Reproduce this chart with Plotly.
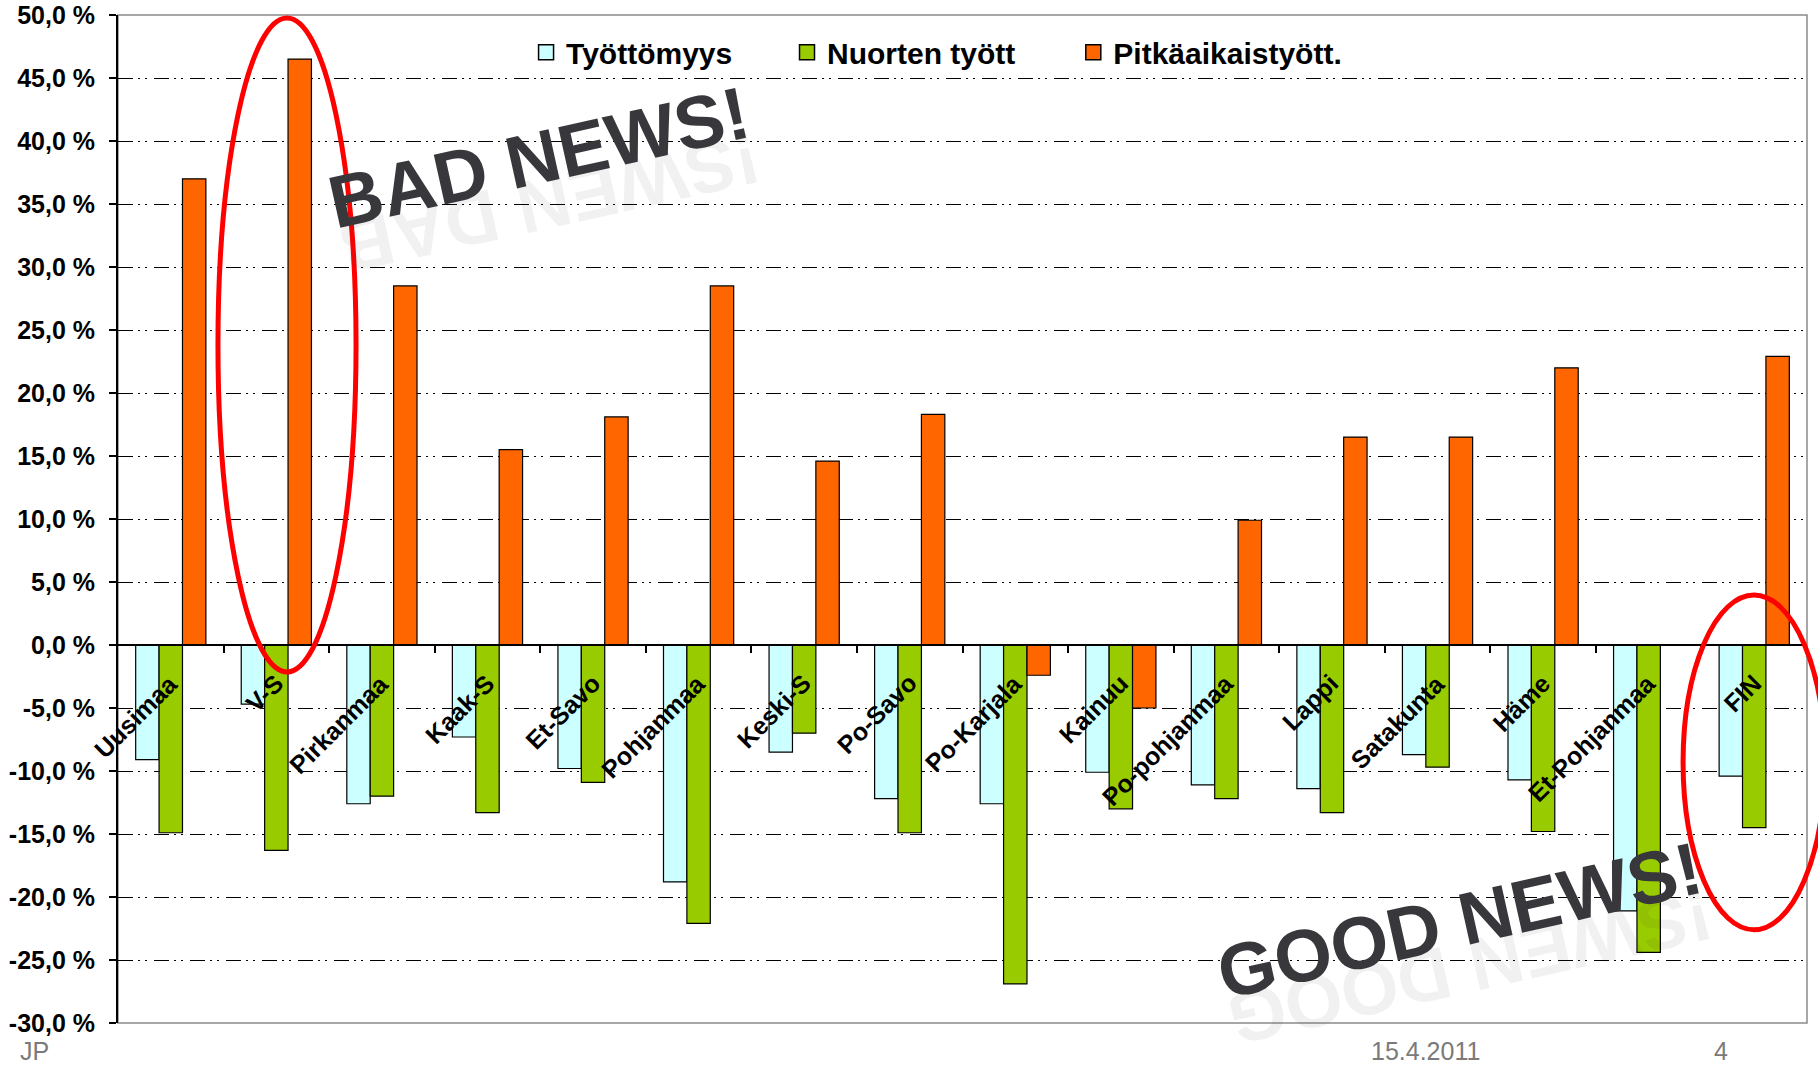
import plotly.graph_objects as go

# ---------------- data ----------------
categories = ["Uusimaa", "V-S", "Pirkanmaa", "Kaak-S", "Et-Savo", "Pohjanmaa", "Keski-S",
              "Po-Savo", "Po-Karjala", "Kainuu", "Po-pohjanmaa", "Lappi", "Satakunta",
              "Häme", "Et-Pohjanmaa", "FIN"]
tyottomyys = [-9.1, -4.7, -12.6, -7.3, -9.8, -18.8, -8.5, -12.2, -12.6, -10.1, -11.1, -11.4,
              -8.7, -10.7, -21.1, -10.4]
nuorten_tyott = [-14.9, -16.3, -12.0, -13.3, -10.9, -22.1, -7.0, -14.9, -26.9, -13.0, -12.2,
                 -13.3, -9.7, -14.8, -24.4, -14.5]
pitkaaikais = [37.0, 46.5, 28.5, 15.5, 18.1, 28.5, 14.6, 18.3, -2.4, -5.0, 9.9, 16.5, 16.5,
               22.0, None, 22.9]
series_names = ["Työttömyys", "Nuorten tyött", "Pitkäaikaistyött."]
series_colors = ["#CCFFFF", "#99CC00", "#FF6600"]

y_ticks = [-30, -25, -20, -15, -10, -5, 0, 5, 10, 15, 20, 25, 30, 35, 40, 45, 50]
y_tick_labels = ["-30,0 %", "-25,0 %", "-20,0 %", "-15,0 %", "-10,0 %", "-5,0 %", "0,0 %",
                 "5,0 %", "10,0 %", "15,0 %", "20,0 %", "25,0 %", "30,0 %", "35,0 %",
                 "40,0 %", "45,0 %", "50,0 %"]
y_range = [-30, 50]
footer_texts = ["JP", "15.4.2011", "4"]

FONT = "Arial, Liberation Sans, sans-serif"
x_idx = list(range(len(categories)))
x_range = [-0.5, len(categories) - 0.5]

fig = go.Figure()
for name, vals, col in zip(series_names, [tyottomyys, nuorten_tyott, pitkaaikais], series_colors):
    fig.add_trace(go.Bar(
        x=x_idx, y=vals, name=name, showlegend=False,
        marker=dict(color=col, line=dict(color="black", width=1.2)),
    ))
# legend entries with larger square swatches, one legend box per entry
legend_ids = ["legend", "legend2", "legend3"]
for name, col, lid in zip(series_names, series_colors, legend_ids):
    fig.add_trace(go.Scatter(
        x=[None], y=[None], mode="markers", name=name, legend=lid,
        marker=dict(symbol="square", size=15, color=col, line=dict(color="black", width=1.5)),
    ))


def px(x):
    return (x - x_range[0]) / (x_range[1] - x_range[0])


def py(y):
    return (y - y_range[0]) / (y_range[1] - y_range[0])


annotations = []
# category labels, rotated, just below zero line
for i, c in enumerate(categories):
    annotations.append(dict(
        x=i, y=0, xref="x", yref="y", text=c, textangle=-45,
        xanchor="right", yanchor="top", xshift=15, yshift=-21, showarrow=False,
        font=dict(family=FONT, size=25, color="black", weight="bold"),
    ))

# word-art style texts with faint reflection
for txt, refl, ax, ay, ang in [("BAD NEWS!", "!SWEN DAB", 3.49, 38.7, -12.5),
                               ("GOOD NEWS!", "!SWEN DOOG", 12.21, -21.9, -12.6)]:
    annotations.append(dict(
        x=ax, y=ay, xref="x", yref="y", text=refl, textangle=180 + ang,
        xshift=10, yshift=-45, showarrow=False,
        font=dict(family=FONT, size=74, color="rgba(55,55,60,0.07)", weight="bold"),
    ))
    annotations.append(dict(
        x=ax, y=ay, xref="x", yref="y", text=txt, textangle=ang, showarrow=False,
        font=dict(family=FONT, size=74, color="#38383c", weight="bold"),
    ))

# footer
for txt, fx, anchor in zip(footer_texts, [-0.0592, 0.7744, 0.9491], ["left", "center", "center"]):
    annotations.append(dict(
        x=fx, y=-0.0275, xref="paper", yref="paper", text=txt, showarrow=False,
        xanchor=anchor, yanchor="middle",
        font=dict(family=FONT, size=25, color="#7a7a7a"),
    ))

shapes = [
    dict(type="rect", xref="paper", yref="paper", x0=0, x1=1, y0=0, y1=1,
         line=dict(color="#8a8a8a", width=1.5), layer="between"),
    dict(type="circle", xref="paper", yref="paper",
         x0=px(0.447), x1=px(1.755), y0=py(-2.14), y1=py(49.76),
         line=dict(color="#FF0000", width=5)),
    dict(type="circle", xref="paper", yref="paper",
         x0=px(14.326), x1=px(15.67), y0=py(-22.6), y1=py(3.97),
         line=dict(color="#FF0000", width=5)),
]

legend_style = dict(orientation="h", y=0.963, xanchor="left", yanchor="middle",
                    font=dict(family=FONT, size=30, color="black", weight="bold"),
                    bgcolor="rgba(0,0,0,0)")

fig.update_layout(
    width=1818, height=1065,
    margin=dict(l=118, r=11, t=15, b=42, autoexpand=False),
    paper_bgcolor="white", plot_bgcolor="white",
    barmode="group", bargap=0.335, bargroupgap=0,
    font=dict(family=FONT, color="black"),
    legend=dict(x=0.2416, **legend_style),
    legend2=dict(x=0.3961, **legend_style),
    legend3=dict(x=0.5656, **legend_style),
    xaxis=dict(range=x_range, anchor="free", position=py(0), showline=True,
               linecolor="black", linewidth=2, ticks="outside",
               tickvals=[i + 0.5 for i in x_idx[:-1]], ticklen=7, tickwidth=1.5,
               tickcolor="black", showticklabels=False, showgrid=False, zeroline=False,
               automargin=False),
    yaxis=dict(range=y_range, tickvals=y_ticks, ticktext=y_tick_labels,
               tickfont=dict(family=FONT, size=25, color="black", weight="bold"),
               showline=True, linecolor="black", linewidth=2, ticks="outside",
               ticklen=7, tickwidth=1.5, tickcolor="black", ticklabelstandoff=9,
               showgrid=True, gridcolor="black", gridwidth=1.3,
               griddash="15px,5px,2px,5px,2px,7px",
               zeroline=True, zerolinecolor="black", zerolinewidth=2, automargin=False),
    annotations=annotations, shapes=shapes,
)

fig.write_html("out.html", config={"displayModeBar": False},
               post_script="document.body.style.margin='0';")
